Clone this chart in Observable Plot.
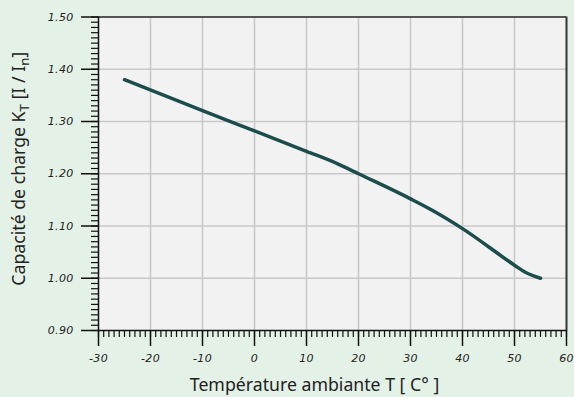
<!DOCTYPE html>
<html>
<head>
<meta charset="utf-8">
<script src="https://cdn.jsdelivr.net/npm/d3@7"></script>
<script src="https://cdn.jsdelivr.net/npm/@observablehq/plot@0.6"></script>
<style>
  html, body { margin: 0; padding: 0; background: #e4f1e7; }
  #chart { width: 574px; height: 397px; overflow: hidden; }
  #chart svg [aria-label*="tick label"],
  #chart svg [aria-label*="tick label"] text {
    font-family: 'DejaVu Sans', Verdana, sans-serif !important;
    font-size: 11px !important;
    font-style: italic !important;
    letter-spacing: 0.3px;
    fill: #222 !important;
  }
</style>
</head>
<body>
<div id="chart"></div>
<script>
// Data
const temperature = [-25, -10, 0, 10, 16, 20, 30, 34, 40, 50, 52, 55];
const capacity    = [1.380, 1.321, 1.282, 1.243, 1.219, 1.200, 1.152, 1.131, 1.095, 1.025, 1.012, 1.000];
const xMajorTicks = [-30, -20, -10, 0, 10, 20, 30, 40, 50, 60];
const yMajorTicks = [0.9, 1.0, 1.1, 1.2, 1.3, 1.4, 1.5];
const xLabel = "Température ambiante T [ C° ]";
const yLabelParts = ["Capacité de charge K", "T", " [I / I", "n", "]"];

const data = temperature.map((t, i) => ({t, k: capacity[i]}));
const xMinor = d3.range(-30, 61, 1);
const yMinor = d3.range(90, 151, 1).map(d => d / 100);

const titleFont = "'Noto Sans', sans-serif";

const plot = Plot.plot({
  width: 574,
  height: 397,
  marginLeft: 98,
  marginRight: 8,
  marginTop: 16.5,
  marginBottom: 67,
  style: {background: "transparent", overflow: "visible", color: "#222"},
  x: {domain: [-30, 60]},
  y: {domain: [0.9, 1.5]},
  marks: [
    Plot.frame({fill: "#f2f2f2", stroke: "none"}),
    Plot.gridX(xMajorTicks.slice(1, -1), {stroke: "#c8c8c8", strokeOpacity: 1, strokeWidth: 1.5}),
    Plot.gridY(yMajorTicks.slice(1, -1), {stroke: "#c8c8c8", strokeOpacity: 1, strokeWidth: 1.5}),
    Plot.ruleY([1.5], {stroke: "#555", strokeWidth: 2}),
    Plot.ruleX([60], {stroke: "#333", strokeWidth: 2}),
    // minor ticks
    Plot.axisX(xMinor, {tickSize: 7, fill: "none", stroke: "#111", strokeWidth: 1.2, label: null}),
    Plot.axisY(yMinor, {tickSize: 7, fill: "none", stroke: "#111", strokeWidth: 1.2, label: null}),
    // major ticks
    Plot.axisX(xMajorTicks, {tickSize: 16, tickPadding: 8, stroke: "#111", strokeWidth: 1.5,
      tickFormat: d => String(d), label: null}),
    Plot.axisY(yMajorTicks, {tickSize: 17, tickPadding: 8, stroke: "#111", strokeWidth: 1.5,
      tickFormat: d3.format(".2f"), label: null}),
    Plot.ruleX([-30], {stroke: "#111", strokeWidth: 1.5}),
    Plot.ruleY([0.9], {stroke: "#111", strokeWidth: 1.5}),
    Plot.line(data, {x: "t", y: "k", stroke: "#1c4d4c", strokeWidth: 3.5, curve: "monotone-x"}),
    Plot.text([xLabel], {frameAnchor: "bottom", dy: 55, dx: -18, lineAnchor: "middle",
      fontSize: 17.7, fontFamily: titleFont, fill: "#222"}),
    Plot.text([yLabelParts.join("")], {frameAnchor: "left", textAnchor: "middle", dx: -79, dy: -5, rotate: -90,
      lineAnchor: "middle", fontSize: 17.7, fontFamily: titleFont, fill: "#222", className: "ylabel"})
  ]
});

// rebuild the y label with subscripts
const yl = d3.select(plot).select(".ylabel text");
if (!yl.empty()) {
  yl.text(null);
  yLabelParts.forEach((p, i) => {
    const sub = i % 2 === 1;
    const ts = yl.append("tspan").text(p);
    if (sub) ts.attr("dy", "0.3em").attr("font-size", "0.75em");
    else if (i > 0) ts.attr("dy", "-0.225em");
  });
}

document.getElementById("chart").appendChild(plot);
</script>
</body>
</html>
